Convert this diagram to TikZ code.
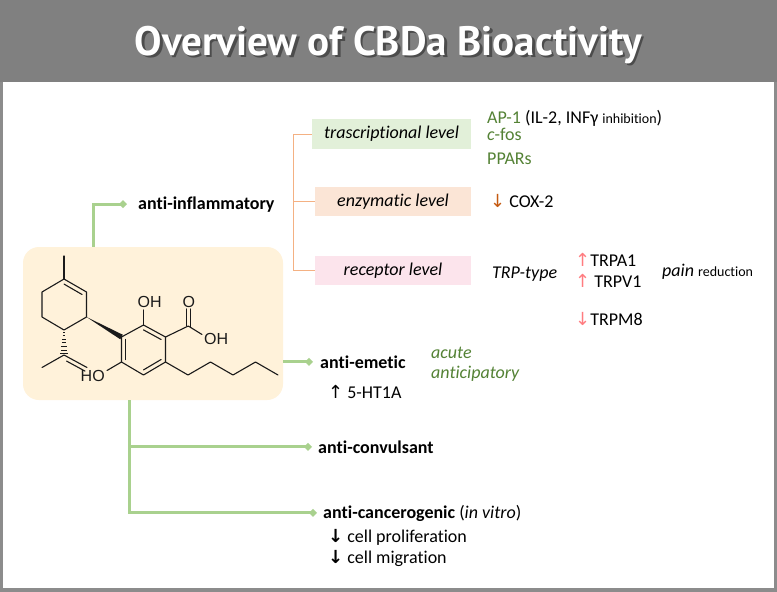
\documentclass[tikz,border=0pt]{standalone}
\usepackage{fontspec}
\setmainfont{Carlito}[Ligatures={NoCommon}]
\newfontfamily\titlefont{PT Sans}
\newfontfamily\molfont{Liberation Sans}
\newfontfamily\arr{DejaVu Sans}
\usetikzlibrary{arrows.meta,calc}
\definecolor{framegray}{HTML}{8C8C8C}
\definecolor{titlegray}{HTML}{808080}
\definecolor{cgreen}{HTML}{A9D18E}
\definecolor{tgreen}{HTML}{548235}
\definecolor{obr}{HTML}{F4B183}
\definecolor{oarrow}{HTML}{C55A11}
\definecolor{rarrow}{HTML}{FF7C80}
\definecolor{molfill}{HTML}{FFF2DA}
\definecolor{trfill}{HTML}{E2F0D9}
\definecolor{enfill}{HTML}{FBE5D6}
\definecolor{refill}{HTML}{FCE4EC}
\definecolor{bondc}{HTML}{1A1A1A}
\newcommand\ttltxt{\resizebox{507pt}{!}{\titlefont\bfseries Overview of CBDa Bioactivity}}
\begin{document}
\begin{tikzpicture}[x=1pt,y=-1pt,
  txt/.style={inner sep=0pt,anchor=base west,font=\fontsize{18}{21}\selectfont},
  lvlbox/.style={inner sep=0pt,font=\fontsize{18}{21}\selectfont\itshape,minimum height=29pt},
  gconn/.style={draw=cgreen,line width=3pt,-{Diamond[length=8pt,width=8pt]}},
  oconn/.style={draw=obr,line width=1pt},
  bond/.style={line width=1.1pt,draw=bondc,line cap=round,line join=round},
  atom/.style={inner sep=0pt,anchor=base west,font=\molfont\fontsize{16}{19}\selectfont,text=bondc},
  molbox/.style={fill=molfill,rounded corners=16pt,minimum width=260pt,minimum height=153pt,inner sep=0pt}
]
\useasboundingbox (0,0) rectangle (777,592);
\fill[framegray] (0,0) rectangle (777,592);
\fill[titlegray] (0,0) rectangle (777,82);
\fill[white] (3,82) rectangle (774,588);

% title with shadow
\node[anchor=base,text=black,opacity=.4,inner sep=0pt] (tshadow) at (391,57.5) {\ttltxt};
\node[anchor=base,text=white,inner sep=0pt] (title) at (388.5,55) {\ttltxt};

% molecule box
\node[molbox] (mol) at (153,323.5) {};

% molecule
\coordinate (m) at (64,256);
\coordinate (a1) at (64,279);
\coordinate (a2) at (86.5,292);
\coordinate (a3) at (86.5,317);
\coordinate (a4) at (64,330);
\coordinate (a5) at (42,317);
\coordinate (a6) at (42,292);
\coordinate (ca) at (64.25,304.5);
\coordinate (b1) at (121.5,337);
\coordinate (b2) at (143.5,325);
\coordinate (b3) at (165.5,337);
\coordinate (b4) at (165.5,362);
\coordinate (b5) at (143.5,375);
\coordinate (b6) at (121.5,362);
\coordinate (cb) at (143.5,349.5);
\coordinate (c) at (188.3,326);
\coordinate (p1) at (188,375);
\coordinate (p2) at (210.5,362);
\coordinate (p3) at (233,375);
\coordinate (p4) at (255.5,362);
\coordinate (p5) at (278,375);
\coordinate (i1) at (64,355);
\coordinate (i2) at (42,367.5);
\coordinate (i3) at (87,367.5);

\draw[bond] (a1)--(a2)--(a3)--(a4)--(a5)--(a6)--cycle;
\draw[bond] (m)--(a1);
\draw[bond] ($(a1)!0.2!(ca)$)--($(a2)!0.2!(ca)$);
\draw[bond] (b1)--(b2)--(b3)--(b4)--(b5)--(b6)--cycle;
\draw[bond] ($(b1)!0.2!(cb)$)--($(b6)!0.2!(cb)$);
\draw[bond] ($(b2)!0.2!(cb)$)--($(b3)!0.2!(cb)$);
\draw[bond] ($(b4)!0.2!(cb)$)--($(b5)!0.2!(cb)$);
\draw[bond] (b2)--(143.5,310);
\draw[bond] (b3)--(c)--(202,334.5);
\draw[bond] (186.5,326)--(186.5,309);
\draw[bond] (190.1,327)--(190.1,309);
\draw[bond] (b4)--(p1)--(p2)--(p3)--(p4)--(p5);
\draw[bond] (b6)--(107,370.5);
\fill[bondc] (a3)--($(b1)!2.6pt!90:(a3)$)--($(b1)!2.6pt!-90:(a3)$)--cycle;
\foreach \k [evaluate=\k as \w using 0.7+0.5*\k, evaluate=\k as \yy using 332+3.6*\k] in {0,...,6}
  {\draw[line width=1pt,bondc] (64-\w,\yy)--(64+\w,\yy);}
\draw[bond] (i2)--(i1)--(i3);
\draw[bond] ($(i1)!0.2!(i3)+(-2,3.6)$)--($(i3)+(-2,3.6)$);

\node[atom] (oh1) at (137.5,307) {OH};
\node[atom] (o1) at (182.3,307) {O};
\node[atom] (oh2) at (204,344) {OH};
\node[atom] (ho) at (80.5,381.5) {HO};

% activity labels
\node[txt,font=\fontsize{18}{21}\selectfont\bfseries] (ai) at (138,209) {anti-inflammatory};
\node[txt,font=\fontsize{18}{21}\selectfont\bfseries] (ae) at (320,368) {anti-emetic};
\node[txt,font=\fontsize{18}{21}\selectfont\bfseries] (acv) at (318,453) {anti-convulsant};
\node[txt] (aca) at (323,518) {\textbf{anti-cancerogenic} (\textit{in vitro})};
\node[txt] (cp) at (328,542) {{\arr\bfseries ↓} cell proliferation};
\node[txt] (cm) at (328,563) {{\arr\bfseries ↓} cell migration};

\node[txt,text=tgreen,font=\fontsize{18}{21}\selectfont\itshape] (acute) at (431,358) {acute};
\node[txt,text=tgreen,font=\fontsize{18}{21}\selectfont\itshape] (antic) at (431,378) {anticipatory};
\node[txt] (ht) at (328,398) {{\arr ↑} 5-HT1A};

% level boxes
\node[lvlbox,fill=trfill,minimum width=159pt,minimum height=30pt] (tbox) at (391.5,134) {trascriptional level};
\node[lvlbox,fill=enfill,minimum width=156pt] (ebox) at (393,201.5) {enzymatic level};
\node[lvlbox,fill=refill,minimum width=156pt] (rbox) at (393,270.5) {receptor level};

% right column
\node[txt] (ap) at (487,123) {\textcolor{tgreen}{AP-1} (IL-2, INFγ {\fontsize{14}{16}\selectfont inhibition})};
\node[txt,text=tgreen] (cfos) at (487,140) {\textit{c}-fos};
\node[txt,text=tgreen] (ppar) at (487,164) {PPARs};
\node[txt] (cox) at (490,207) {{\arr\color{oarrow}↓} COX-2};
\node[txt,font=\fontsize{18}{21}\selectfont\itshape] (trp) at (492,278) {TRP-type};
\node[txt] (trpa) at (575,266) {{\arr\color{rarrow}↑}TRPA1};
\node[txt] (trpv) at (575,287) {{\arr\color{rarrow}↑} TRPV1};
\node[txt] (trpm) at (575,325) {{\arr\color{rarrow}↓}TRPM8};
\node[txt] (pain) at (662,276) {\textit{pain} {\fontsize{14}{16}\selectfont reduction}};

% orange bracket
\coordinate (br) at (293,0);
\draw[oconn] (tbox.west)--(br |- tbox.west)--(br |- rbox.west)--(rbox.west);
\draw[oconn] (br |- ebox.west)--(ebox.west);

% green connectors
\draw[gconn,shorten >=11pt] (93,0 |- mol.north) |- (ai.west);
\draw[gconn,shorten >=7pt] (mol.east |- ae.west) -- (ae.west);
\draw[gconn,shorten >=6pt] (129,0 |- mol.south) |- (aca.west);
\draw[gconn,shorten >=6pt] (129,0 |- acv.west) -- (acv.west);
\end{tikzpicture}
\end{document}
